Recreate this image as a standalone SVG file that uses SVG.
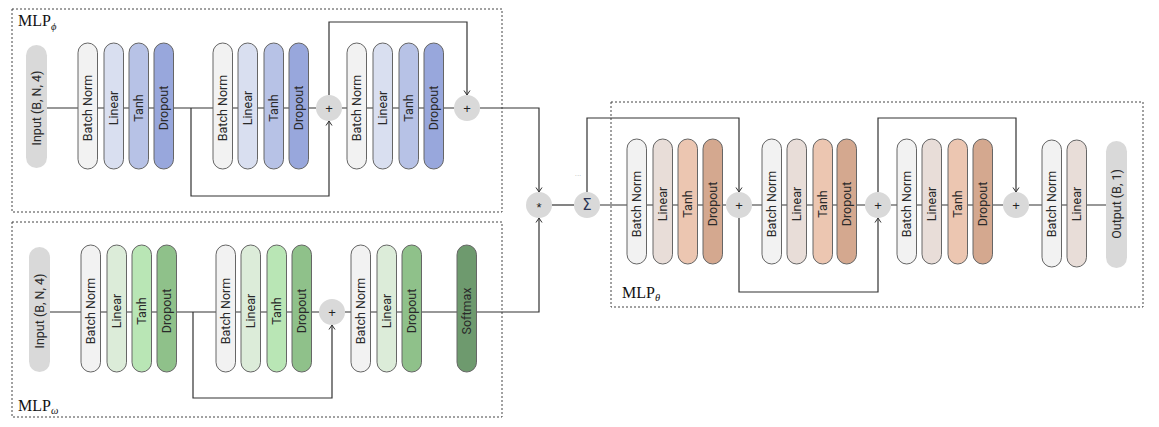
<svg xmlns="http://www.w3.org/2000/svg" width="1159" height="427" viewBox="0 0 1159 427">
<defs>
<marker id="arr" markerWidth="8" markerHeight="8" refX="6" refY="4" orient="auto" markerUnits="userSpaceOnUse">
<path d="M1.5,1 L6,4 L1.5,7" fill="none" stroke="#333" stroke-width="1"/>
</marker>
<style>
.panel{fill:none;stroke:#444;stroke-width:1;stroke-dasharray:2 2}
.ln{fill:none;stroke:#333;stroke-width:1.2}
.pill{stroke:#666;stroke-width:1}
.io{fill:#d9d9d9;stroke:none}
.t{font-family:Roboto,"Liberation Sans",sans-serif;font-size:12.5px;fill:#2a2a2a;text-anchor:middle;dominant-baseline:central}
.op{fill:#d9d9d9;stroke:none}
.opt{font-family:"Liberation Sans",Arial,sans-serif;font-size:13px;fill:#222;text-anchor:middle;dominant-baseline:central}
.lab{font-family:"Liberation Serif","Times New Roman",serif;font-size:16px;fill:#111}
.sub{font-family:"Liberation Serif","Times New Roman",serif;font-style:italic;font-size:10.5px}
.bn{fill:#f2f2f2}
.b1{fill:#d9dff0}.b2{fill:#b7c2e6}.b3{fill:#98a7dc}
.g1{fill:#dcecd9}.g2{fill:#b9e6b5}.g3{fill:#8fc18a}.g4{fill:#6e9a6e}
.r1{fill:#e8ddd8}.r2{fill:#ecc6b1}.r3{fill:#d4a88f}
</style>
</defs>
<rect width="1159" height="427" fill="#ffffff"/>

<g id="panels">
<rect class="panel" x="12" y="9" width="490" height="203"/>
<rect class="panel" x="12" y="222" width="490" height="195"/>
<rect class="panel" x="611" y="102" width="532" height="205"/>
<text class="lab" x="18" y="26">MLP<tspan class="sub" dy="4">ϕ</tspan></text>
<text class="lab" x="18" y="411">MLP<tspan class="sub" dy="3">ω</tspan></text>
<text class="lab" x="622" y="298">MLP<tspan class="sub" dy="3">θ</tspan></text>
<text x="578" y="176" font-family="'Liberation Sans',sans-serif" font-size="8" fill="#bbb" text-anchor="middle">...</text>
</g>

<g id="connectors">
<path class="ln" d="M47,108 H316"/>
<path class="ln" d="M342,108 H454"/>
<path class="ln" d="M480,108 H539 V192" marker-end="url(#arr)"/>
<path class="ln" d="M191,108 V196 H329 V121" marker-end="url(#arr)"/>
<path class="ln" d="M329,95 V22 H467 V95" marker-end="url(#arr)"/>
<path class="ln" d="M50,312 H319"/>
<path class="ln" d="M345,312 H539 V218" marker-end="url(#arr)"/>
<path class="ln" d="M193,312 V398 H332 V325" marker-end="url(#arr)"/>
<path class="ln" d="M552,205 H574"/>
<path class="ln" d="M600,205 H726"/>
<path class="ln" d="M752,205 H865"/>
<path class="ln" d="M891,205 H1003"/>
<path class="ln" d="M1029,205 H1106"/>
<path class="ln" d="M587,192 V118 H739 V192" marker-end="url(#arr)"/>
<path class="ln" d="M739,218 V292 H878 V218" marker-end="url(#arr)"/>
<path class="ln" d="M878,192 V118 H1016 V192" marker-end="url(#arr)"/>
</g>

<g id="mlp-phi">
<g id="phi-input"><rect class="io" x="26" y="45" width="21" height="123" rx="10.5"/><text class="t" transform="rotate(-90 36.5 108)" x="36.5" y="108">Input (B, N, 4)</text></g>
<g id="phi-bn1"><rect class="pill bn" x="78" y="43" width="19.5" height="126" rx="9.75"/><text class="t" transform="rotate(-90 87.75 108)" x="87.75" y="108">Batch Norm</text></g>
<g id="phi-lin1"><rect class="pill b1" x="104" y="43" width="19.5" height="126" rx="9.75"/><text class="t" transform="rotate(-90 113.75 108)" x="113.75" y="108">Linear</text></g>
<g id="phi-tanh1"><rect class="pill b2" x="129" y="43" width="19.5" height="126" rx="9.75"/><text class="t" transform="rotate(-90 138.75 108)" x="138.75" y="108">Tanh</text></g>
<g id="phi-drop1"><rect class="pill b3" x="154" y="43" width="19.5" height="126" rx="9.75"/><text class="t" transform="rotate(-90 163.75 108)" x="163.75" y="108">Dropout</text></g>
<g id="phi-bn2"><rect class="pill bn" x="213" y="43" width="19.5" height="126" rx="9.75"/><text class="t" transform="rotate(-90 222.75 108)" x="222.75" y="108">Batch Norm</text></g>
<g id="phi-lin2"><rect class="pill b1" x="238" y="43" width="19.5" height="126" rx="9.75"/><text class="t" transform="rotate(-90 247.75 108)" x="247.75" y="108">Linear</text></g>
<g id="phi-tanh2"><rect class="pill b2" x="264" y="43" width="19.5" height="126" rx="9.75"/><text class="t" transform="rotate(-90 273.75 108)" x="273.75" y="108">Tanh</text></g>
<g id="phi-drop2"><rect class="pill b3" x="289" y="43" width="19.5" height="126" rx="9.75"/><text class="t" transform="rotate(-90 298.75 108)" x="298.75" y="108">Dropout</text></g>
<g id="phi-plus1"><circle class="op" cx="329" cy="108" r="13"/><text class="opt" x="329" y="108">+</text></g>
<g id="phi-bn3"><rect class="pill bn" x="347" y="43" width="19.5" height="126" rx="9.75"/><text class="t" transform="rotate(-90 356.75 108)" x="356.75" y="108">Batch Norm</text></g>
<g id="phi-lin3"><rect class="pill b1" x="373" y="43" width="19.5" height="126" rx="9.75"/><text class="t" transform="rotate(-90 382.75 108)" x="382.75" y="108">Linear</text></g>
<g id="phi-tanh3"><rect class="pill b2" x="399" y="43" width="19.5" height="126" rx="9.75"/><text class="t" transform="rotate(-90 408.75 108)" x="408.75" y="108">Tanh</text></g>
<g id="phi-drop3"><rect class="pill b3" x="424" y="43" width="19.5" height="126" rx="9.75"/><text class="t" transform="rotate(-90 433.75 108)" x="433.75" y="108">Dropout</text></g>
<g id="phi-plus2"><circle class="op" cx="467" cy="108" r="13"/><text class="opt" x="467" y="108">+</text></g>
</g>

<g id="mlp-omega">
<g id="om-input"><rect class="io" x="29" y="247" width="21" height="125" rx="10.5"/><text class="t" transform="rotate(-90 39.5 311)" x="39.5" y="311">Input (B, N, 4)</text></g>
<g id="om-bn1"><rect class="pill bn" x="81" y="245" width="19.5" height="127" rx="9.75"/><text class="t" transform="rotate(-90 90.75 311)" x="90.75" y="311">Batch Norm</text></g>
<g id="om-lin1"><rect class="pill g1" x="107" y="245" width="19.5" height="127" rx="9.75"/><text class="t" transform="rotate(-90 116.75 311)" x="116.75" y="311">Linear</text></g>
<g id="om-tanh1"><rect class="pill g2" x="132" y="245" width="19.5" height="127" rx="9.75"/><text class="t" transform="rotate(-90 141.75 311)" x="141.75" y="311">Tanh</text></g>
<g id="om-drop1"><rect class="pill g3" x="157" y="245" width="19.5" height="127" rx="9.75"/><text class="t" transform="rotate(-90 166.75 311)" x="166.75" y="311">Dropout</text></g>
<g id="om-bn2"><rect class="pill bn" x="216" y="245" width="19.5" height="127" rx="9.75"/><text class="t" transform="rotate(-90 225.75 311)" x="225.75" y="311">Batch Norm</text></g>
<g id="om-lin2"><rect class="pill g1" x="241" y="245" width="19.5" height="127" rx="9.75"/><text class="t" transform="rotate(-90 250.75 311)" x="250.75" y="311">Linear</text></g>
<g id="om-tanh2"><rect class="pill g2" x="267" y="245" width="19.5" height="127" rx="9.75"/><text class="t" transform="rotate(-90 276.75 311)" x="276.75" y="311">Tanh</text></g>
<g id="om-drop2"><rect class="pill g3" x="292" y="245" width="19.5" height="127" rx="9.75"/><text class="t" transform="rotate(-90 301.75 311)" x="301.75" y="311">Dropout</text></g>
<g id="om-plus"><circle class="op" cx="332" cy="312" r="13"/><text class="opt" x="332" y="312">+</text></g>
<g id="om-bn3"><rect class="pill bn" x="351" y="245" width="19.5" height="127" rx="9.75"/><text class="t" transform="rotate(-90 360.75 311)" x="360.75" y="311">Batch Norm</text></g>
<g id="om-lin3"><rect class="pill g1" x="377" y="245" width="19.5" height="127" rx="9.75"/><text class="t" transform="rotate(-90 386.75 311)" x="386.75" y="311">Linear</text></g>
<g id="om-drop3"><rect class="pill g3" x="402" y="245" width="19.5" height="127" rx="9.75"/><text class="t" transform="rotate(-90 411.75 311)" x="411.75" y="311">Dropout</text></g>
<g id="om-softmax"><rect class="pill g4" x="457" y="245" width="19.5" height="127" rx="9.75"/><text class="t" transform="rotate(-90 466.75 311)" x="466.75" y="311">Softmax</text></g>
</g>

<g id="combine">
<g id="mul"><circle class="op" cx="539" cy="205" r="13"/><text class="opt" x="539" y="207">*</text></g>
<g id="sum"><circle class="op" cx="587" cy="205" r="13"/><text class="opt" x="587" y="205" style="fill:#2b3555;font-size:15px;font-family:'DejaVu Sans',sans-serif">Σ</text></g>
</g>

<g id="mlp-theta">
<g id="th-bn1"><rect class="pill bn" x="627" y="139" width="19.5" height="125" rx="9.75"/><text class="t" transform="rotate(-90 636.75 204)" x="636.75" y="204">Batch Norm</text></g>
<g id="th-lin1"><rect class="pill r1" x="653" y="139" width="19.5" height="125" rx="9.75"/><text class="t" transform="rotate(-90 662.75 204)" x="662.75" y="204">Linear</text></g>
<g id="th-tanh1"><rect class="pill r2" x="678" y="139" width="19.5" height="125" rx="9.75"/><text class="t" transform="rotate(-90 687.75 204)" x="687.75" y="204">Tanh</text></g>
<g id="th-drop1"><rect class="pill r3" x="703" y="139" width="19.5" height="125" rx="9.75"/><text class="t" transform="rotate(-90 712.75 204)" x="712.75" y="204">Dropout</text></g>
<g id="th-plus1"><circle class="op" cx="739" cy="205" r="13"/><text class="opt" x="739" y="205">+</text></g>
<g id="th-bn2"><rect class="pill bn" x="762" y="139" width="19.5" height="125" rx="9.75"/><text class="t" transform="rotate(-90 771.75 204)" x="771.75" y="204">Batch Norm</text></g>
<g id="th-lin2"><rect class="pill r1" x="787" y="139" width="19.5" height="125" rx="9.75"/><text class="t" transform="rotate(-90 796.75 204)" x="796.75" y="204">Linear</text></g>
<g id="th-tanh2"><rect class="pill r2" x="813" y="139" width="19.5" height="125" rx="9.75"/><text class="t" transform="rotate(-90 822.75 204)" x="822.75" y="204">Tanh</text></g>
<g id="th-drop2"><rect class="pill r3" x="837" y="139" width="19.5" height="125" rx="9.75"/><text class="t" transform="rotate(-90 846.75 204)" x="846.75" y="204">Dropout</text></g>
<g id="th-plus2"><circle class="op" cx="878" cy="205" r="13"/><text class="opt" x="878" y="205">+</text></g>
<g id="th-bn3"><rect class="pill bn" x="897" y="139" width="19.5" height="125" rx="9.75"/><text class="t" transform="rotate(-90 906.75 204)" x="906.75" y="204">Batch Norm</text></g>
<g id="th-lin3"><rect class="pill r1" x="922" y="139" width="19.5" height="125" rx="9.75"/><text class="t" transform="rotate(-90 931.75 204)" x="931.75" y="204">Linear</text></g>
<g id="th-tanh3"><rect class="pill r2" x="948" y="139" width="19.5" height="125" rx="9.75"/><text class="t" transform="rotate(-90 957.75 204)" x="957.75" y="204">Tanh</text></g>
<g id="th-drop3"><rect class="pill r3" x="973" y="139" width="19.5" height="125" rx="9.75"/><text class="t" transform="rotate(-90 982.75 204)" x="982.75" y="204">Dropout</text></g>
<g id="th-plus3"><circle class="op" cx="1016" cy="205" r="13"/><text class="opt" x="1016" y="205">+</text></g>
<g id="th-bn4"><rect class="pill bn" x="1042" y="140" width="19.5" height="127" rx="9.75"/><text class="t" transform="rotate(-90 1051.75 204)" x="1051.75" y="204">Batch Norm</text></g>
<g id="th-lin4"><rect class="pill r1" x="1067" y="140" width="19.5" height="127" rx="9.75"/><text class="t" transform="rotate(-90 1076.75 204)" x="1076.75" y="204">Linear</text></g>
<g id="th-output"><rect class="io" x="1106" y="141" width="21" height="127" rx="10.5"/><text class="t" transform="rotate(-90 1116.5 204)" x="1116.5" y="204">Output (B, 1)</text></g>
</g>
</svg>
